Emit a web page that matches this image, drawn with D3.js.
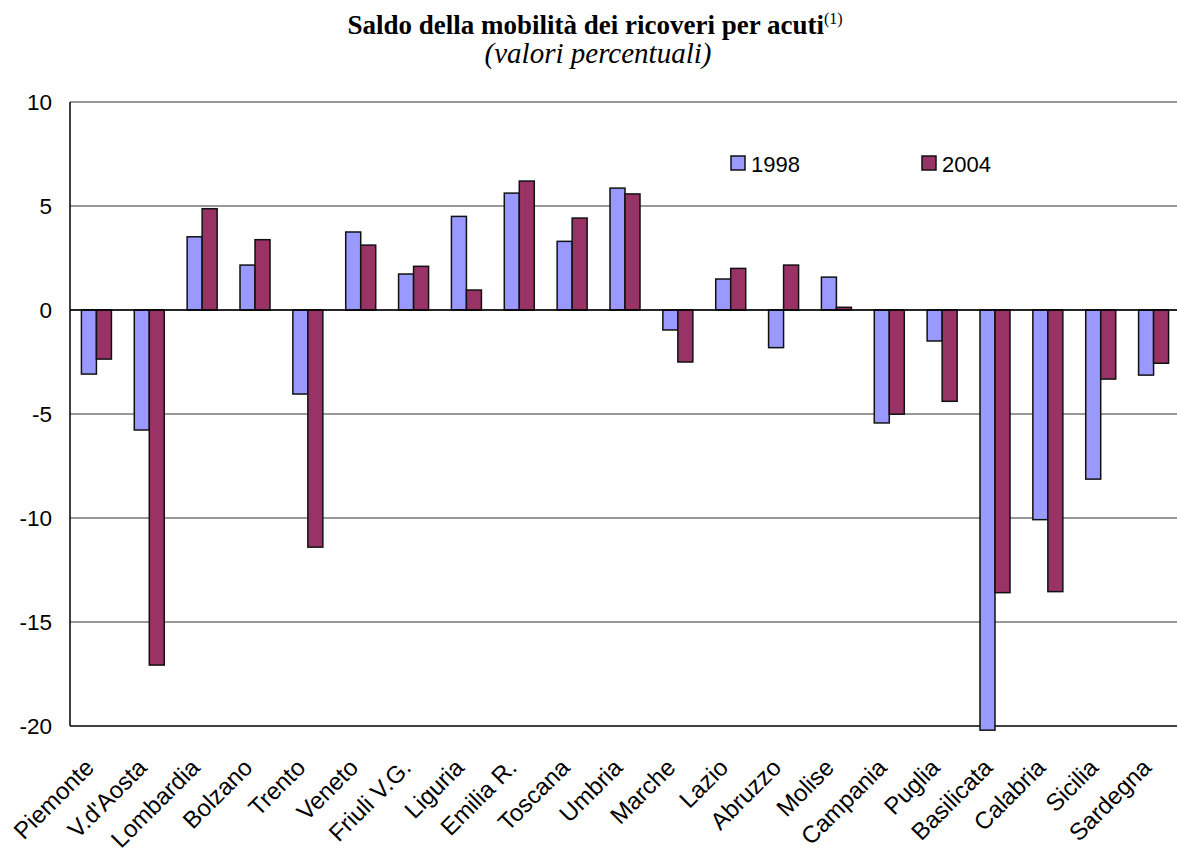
<!DOCTYPE html>
<html lang="it">
<head>
<meta charset="utf-8" />
<title>Saldo della mobilità dei ricoveri per acuti</title>
<script src="https://cdn.jsdelivr.net/npm/d3@7"></script>
<style>
  body { margin: 0; background: #fff; }
</style>
</head>
<body>
<script>
// data
var regions = ["Piemonte", "V.d'Aosta", "Lombardia", "Bolzano", "Trento", "Veneto",
  "Friuli V.G.", "Liguria", "Emilia R.", "Toscana", "Umbria", "Marche", "Lazio",
  "Abruzzo", "Molise", "Campania", "Puglia", "Basilicata", "Calabria", "Sicilia", "Sardegna"];
var series = ["1998", "2004"];
var v1998 = [-3.08, -5.77, 3.52, 2.16, -4.04, 3.75, 1.73, 4.5, 5.62, 3.3, 5.86,
  -0.96, 1.49, -1.81, 1.58, -5.43, -1.49, -20.2, -10.08, -8.13, -3.13];
var v2004 = [-2.36, -17.07, 4.87, 3.38, -11.4, 3.12, 2.1, 0.96, 6.2, 4.42, 5.58,
  -2.5, 2.0, 2.16, 0.13, -5.01, -4.39, -13.59, -13.54, -3.32, -2.56];
var yTicks = [10, 5, 0, -5, -10, -15, -20];
var colors = ["#9999ff", "#993366"];

var w = 1177, h = 853;
var pLeft = 70, pRight = 1180, pTop = 102, pBottom = 726;
var sans = "Arial, 'Liberation Sans', sans-serif";
var serif = "'Times New Roman', 'Liberation Serif', serif";

var svg = d3.select("body").append("svg")
  .attr("width", w).attr("height", h);

var x0 = d3.scaleBand().domain(regions).range([pLeft, pRight]);
var step = x0.step();
var barW = 15;
var x1 = d3.scaleBand().domain(series)
  .range([(step - 2 * barW) / 2, (step + 2 * barW) / 2]);
var y = d3.scaleLinear().domain([-20, 10]).range([pBottom, pTop]);

// gridlines
svg.append("g").selectAll("line")
  .data(yTicks)
  .enter().append("line")
  .attr("x1", pLeft).attr("x2", pRight)
  .attr("y1", function(d) { return y(d); })
  .attr("y2", function(d) { return y(d); })
  .attr("stroke", function(d) { return d === -20 ? "#000" : "#333"; })
  .attr("stroke-width", function(d) { return d === -20 ? 1.5 : 1; });

// y axis
svg.append("line")
  .attr("x1", pLeft).attr("x2", pLeft)
  .attr("y1", pTop).attr("y2", pBottom)
  .attr("stroke", "#000").attr("stroke-width", 1.5);

svg.append("g").selectAll("text")
  .data(yTicks)
  .enter().append("text")
  .attr("x", pLeft - 18)
  .attr("y", function(d) { return y(d); })
  .attr("dy", "0.36em")
  .attr("text-anchor", "end")
  .style("font-family", sans)
  .style("font-size", "22.5px")
  .text(function(d) { return d; });

// bars
var rows = regions.map(function(r, i) {
  return { region: r, values: [v1998[i], v2004[i]] };
});

var groups = svg.append("g").selectAll("g")
  .data(rows)
  .enter().append("g")
  .attr("transform", function(d) { return "translate(" + x0(d.region) + ",0)"; });

groups.selectAll("rect")
  .data(function(d) {
    return series.map(function(s, k) { return { s: s, k: k, v: d.values[k] }; });
  })
  .enter().append("rect")
  .attr("x", function(d) { return x1(d.s); })
  .attr("width", x1.bandwidth())
  .attr("y", function(d) { return y(Math.max(0, d.v)); })
  .attr("height", function(d) { return Math.abs(y(d.v) - y(0)); })
  .attr("fill", function(d) { return colors[d.k]; })
  .attr("stroke", "#111")
  .attr("stroke-width", 1.5);

// zero line
svg.append("line")
  .attr("x1", pLeft).attr("x2", pRight)
  .attr("y1", y(0)).attr("y2", y(0))
  .attr("stroke", "#000").attr("stroke-width", 1.5);

// x labels
svg.append("g").selectAll("text")
  .data(regions)
  .enter().append("text")
  .attr("transform", function(d) {
    return "translate(" + (x0(d) + step / 2 - 1) + "," + (pBottom + 43) + ") rotate(-45)";
  })
  .attr("text-anchor", "end")
  .style("font-family", sans)
  .style("font-size", "24px")
  .text(function(d) { return d; });

// legend
var legend = svg.append("g");
var legendX = [731, 922];
series.forEach(function(s, k) {
  legend.append("rect")
    .attr("x", legendX[k]).attr("y", 156)
    .attr("width", 14).attr("height", 14)
    .attr("fill", colors[k])
    .attr("stroke", "#111").attr("stroke-width", 1.5);
  legend.append("text")
    .attr("x", legendX[k] + 20).attr("y", 171.5)
    .style("font-family", sans)
    .style("font-size", "22px")
    .text(s);
});

// title
var title = svg.append("text")
  .attr("x", 595).attr("y", 34)
  .attr("text-anchor", "middle")
  .style("font-family", serif)
  .style("font-weight", "bold")
  .style("font-size", "27px")
  .text("Saldo della mobilità dei ricoveri per acuti");
title.append("tspan")
  .style("font-weight", "normal")
  .style("font-size", "16px")
  .attr("dy", "-10")
  .text("(1)");

svg.append("text")
  .attr("x", 598).attr("y", 63)
  .attr("text-anchor", "middle")
  .style("font-family", serif)
  .style("font-style", "italic")
  .style("font-size", "29px")
  .text("(valori percentuali)");
</script>
</body>
</html>
